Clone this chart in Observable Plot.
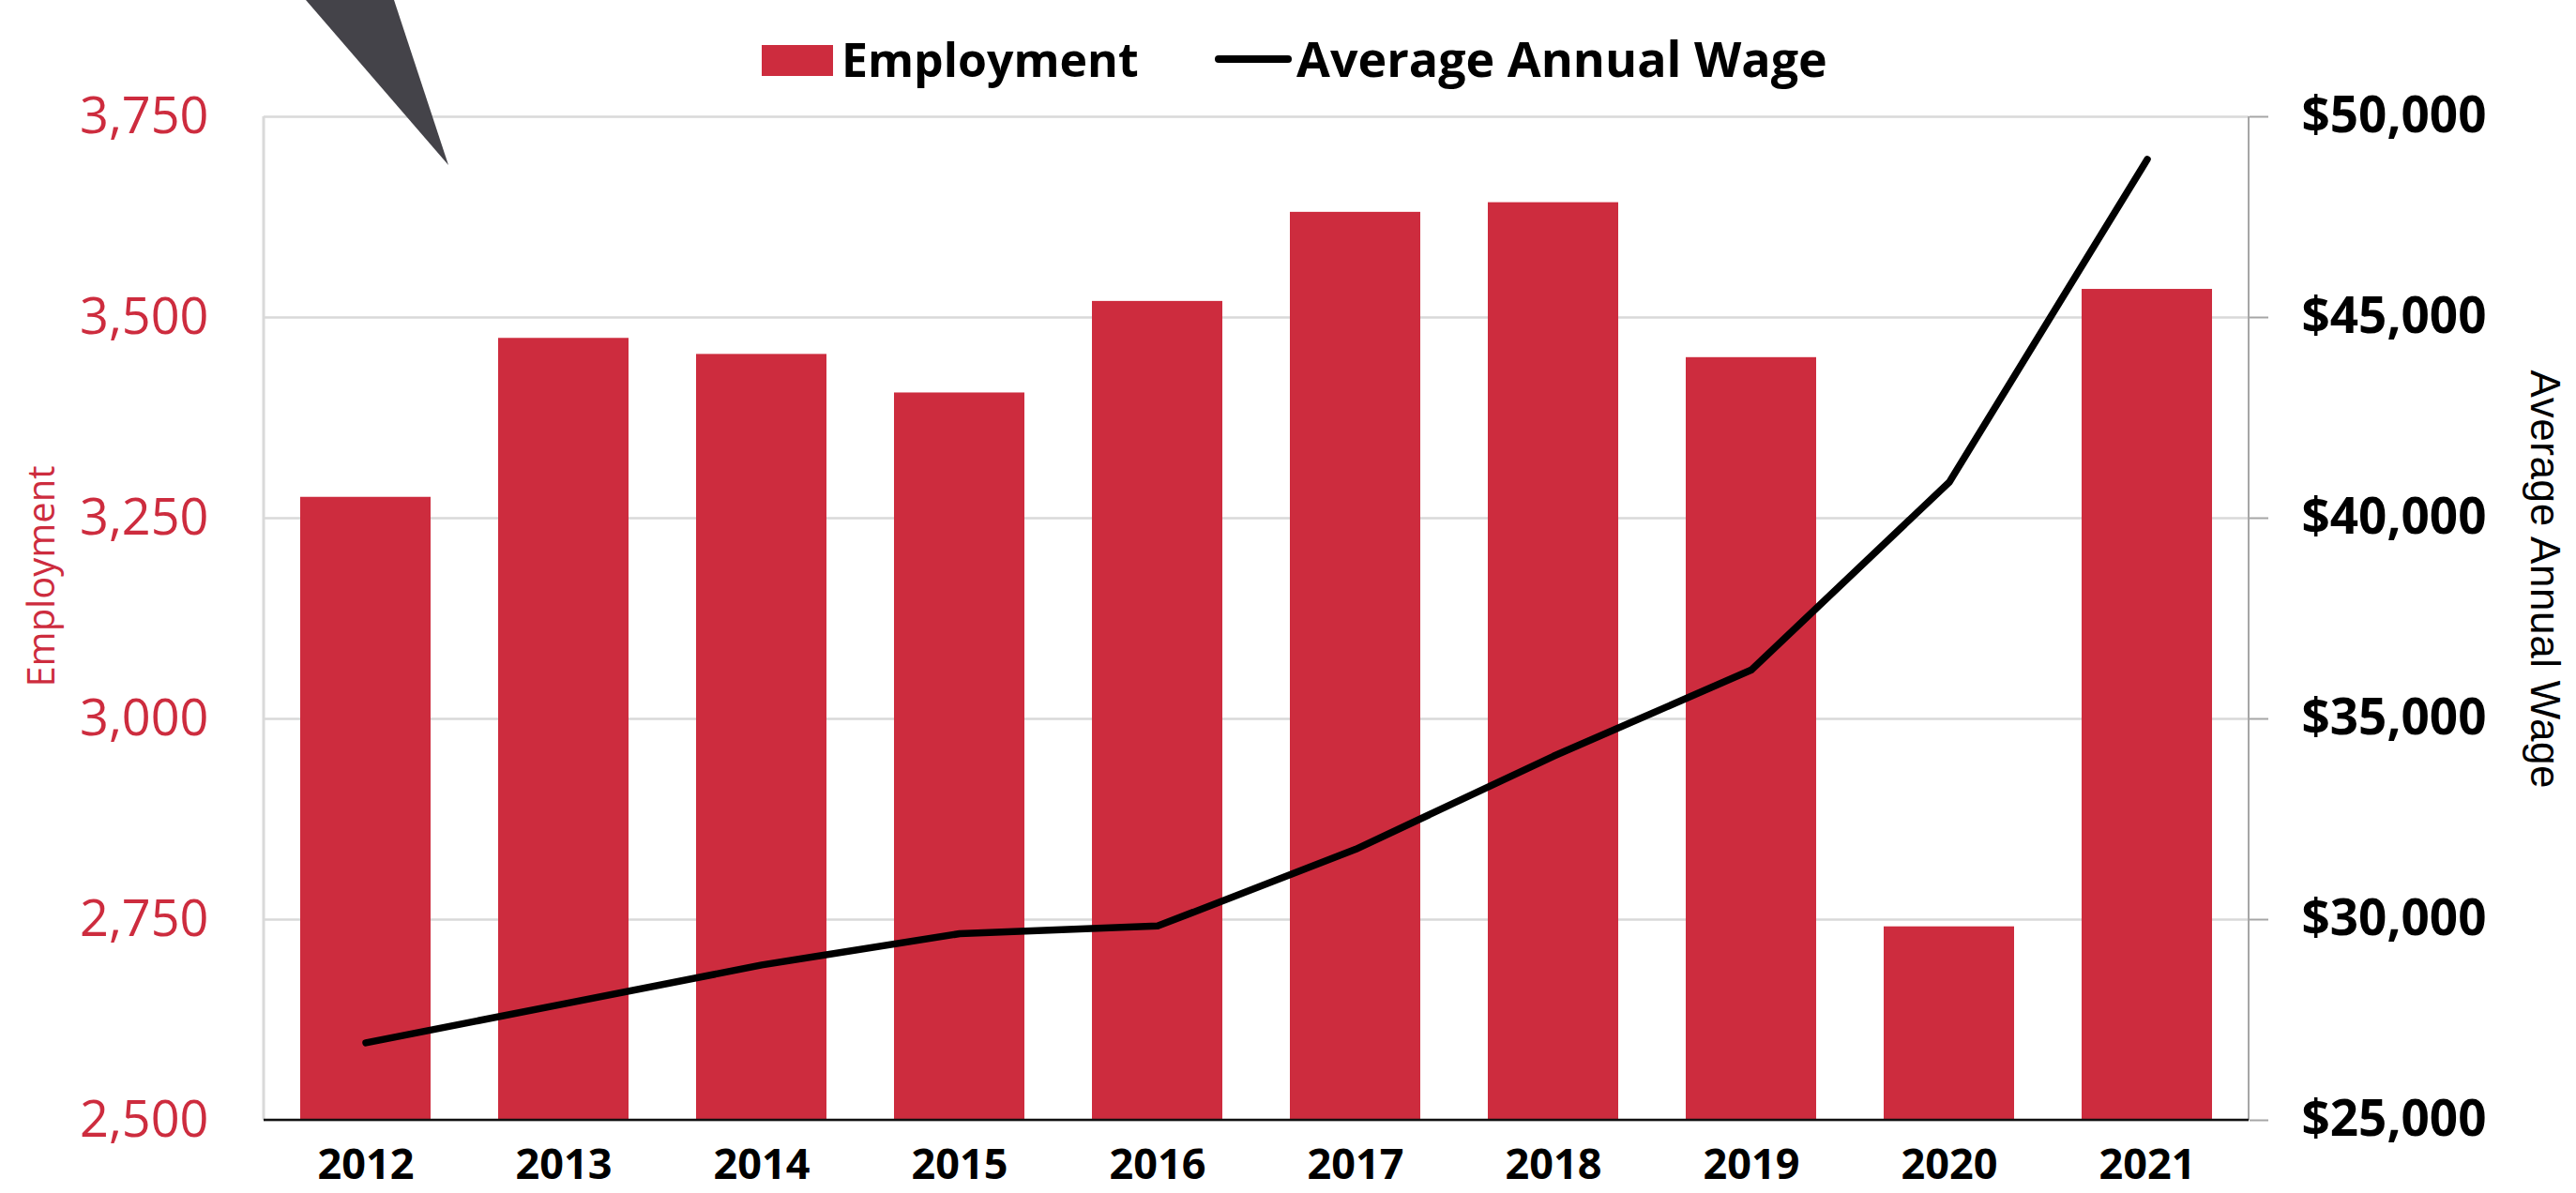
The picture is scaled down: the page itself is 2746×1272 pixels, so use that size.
<!DOCTYPE html>
<html>
<head>
<meta charset="utf-8">
<script src="https://cdn.jsdelivr.net/npm/d3@7"></script>
<script src="https://cdn.jsdelivr.net/npm/@observablehq/plot@0.6"></script>
<style>
  html, body { margin: 0; padding: 0; background: #fff; }
  #wrap { position: relative; width: 2746px; height: 1272px; overflow: hidden; }
  #legend { display: block; }
  #chart svg { display: block; }
  #pointer { position: absolute; left: 0; top: 0; pointer-events: none; }
</style>
</head>
<body>
<div id="wrap">
  <svg id="legend" width="2746" height="100"></svg>
  <div id="chart"></div>
  <svg id="pointer" width="600" height="200"><polygon points="326,0 420,0 478,176" fill="#444349"/></svg>
</div>
<script>
// ---- data ----
const years = ["2012", "2013", "2014", "2015", "2016", "2017", "2018", "2019", "2020", "2021"];
const employment = [3276, 3474, 3454, 3406, 3520, 3631, 3643, 3450, 2741, 3535];
const wages = [26930, 27900, 28870, 29650, 29840, 31750, 34070, 36220, 40900, 48940];
const employmentTicks = [2500, 2750, 3000, 3250, 3500, 3750];
const wageTicks = [25000, 30000, 35000, 40000, 45000, 50000];
const seriesNames = ["Employment", "Average Annual Wage"];
const axisTitles = ["Employment", "Average Annual Wage"];

const RED = "#CD2C3E";
const empDomain = [employmentTicks[0], employmentTicks[employmentTicks.length - 1]];
const wageDomain = [wageTicks[0], wageTicks[wageTicks.length - 1]];
const wageToEmp = w => empDomain[0] + (w - wageDomain[0]) * (empDomain[1] - empDomain[0]) / (wageDomain[1] - wageDomain[0]);
const empToWage = e => wageDomain[0] + (e - empDomain[0]) * (wageDomain[1] - wageDomain[0]) / (empDomain[1] - empDomain[0]);

const data = years.map((year, i) => ({year, employment: employment[i], wage: wages[i]}));

const chart = Plot.plot({
  width: 2746,
  height: 1172,
  marginLeft: 281,
  marginRight: 349,
  marginTop: 24,
  marginBottom: 78,
  style: {fontFamily: "'Open Sans', sans-serif", background: "#fff", overflow: "visible"},
  x: {type: "band", domain: years, paddingInner: 0.34, paddingOuter: 0.17, axis: null},
  y: {domain: empDomain, axis: null},
  marks: [
    Plot.gridY(employmentTicks, {stroke: "#d9d9d9", strokeOpacity: 1, strokeWidth: 2.5}),
    Plot.barY(data, {x: "year", y1: empDomain[0], y2: "employment", fill: RED}),
    Plot.line(data, {x: "year", y: d => wageToEmp(d.wage), stroke: "#000", strokeWidth: 7.5, strokeLinecap: "round", strokeLinejoin: "round"}),
    Plot.axisY(employmentTicks, {
      anchor: "left", tickSize: 0, tickPadding: 59, label: null,
      tickFormat: d3.format(","), fill: RED, fontSize: 54, fontFamily: "'Open Sans', sans-serif"
    }),
    Plot.axisY(employmentTicks, {
      anchor: "right", tickSize: 20, tickPadding: 36, label: null, stroke: "#a6a6a6", strokeWidth: 2,
      tickFormat: v => "$" + d3.format(",")(Math.round(empToWage(v))), fill: "#000",
      fontSize: 53, fontWeight: 700, fontFamily: "'Open Sans', sans-serif"
    }),
    Plot.axisX({
      anchor: "bottom", tickSize: 0, tickPadding: 31, label: null,
      fill: "#000", fontSize: 45, fontWeight: 700, fontFamily: "'Open Sans', sans-serif"
    }),
    Plot.text([axisTitles[0]], {
      frameAnchor: "left", textAnchor: "middle", dx: -236, dy: -45, rotate: -90, fill: RED,
      fontSize: 40, fontFamily: "'Open Sans', sans-serif"
    }),
    Plot.text([axisTitles[1]], {
      frameAnchor: "right", textAnchor: "middle", dx: 315, dy: -42, rotate: 90, fill: "#000",
      fontSize: 44, fontFamily: "'Liberation Sans', Arial, sans-serif"
    })
  ]
});

document.getElementById("chart").appendChild(chart);

const svg = d3.select(chart);
// stretch the right-hand title to the reference's length
svg.selectAll("text").filter(function() { return this.textContent === axisTitles[1]; })
  .attr("textLength", 446).attr("lengthAdjust", "spacing");

// edge lines of the plot area, placed from the library's own scales
const xs = chart.scale("x");
const ys = chart.scale("y");
const [xl, xr] = xs.range;
const [yb, yt] = ys.range;
svg.append("line").attr("x1", xl).attr("x2", xl).attr("y1", yt).attr("y2", yb)
  .attr("stroke", "#d9d9d9").attr("stroke-width", 3);
svg.append("line").attr("x1", xr).attr("x2", xr).attr("y1", yt).attr("y2", yb)
  .attr("stroke", "#a6a6a6").attr("stroke-width", 2);
svg.append("line").attr("x1", xl).attr("x2", xr).attr("y1", yb).attr("y2", yb)
  .attr("stroke", "#111").attr("stroke-width", 2.5);

// legend
const lg = d3.select("#legend");
lg.append("rect").attr("x", 812).attr("y", 48).attr("width", 76).attr("height", 33).attr("fill", RED);
lg.append("text").attr("x", 897).attr("y", 82).text(seriesNames[0])
  .attr("font-family", "'Open Sans', sans-serif").attr("font-weight", 700).attr("font-size", 50).attr("fill", "#000");
lg.append("line").attr("x1", 1299).attr("x2", 1373).attr("y1", 63).attr("y2", 63)
  .attr("stroke", "#000").attr("stroke-width", 8).attr("stroke-linecap", "round");
lg.append("text").attr("x", 1382).attr("y", 82).text(seriesNames[1])
  .attr("font-family", "'Open Sans', sans-serif").attr("font-weight", 700).attr("font-size", 52).attr("fill", "#000");
</script>
</body>
</html>
